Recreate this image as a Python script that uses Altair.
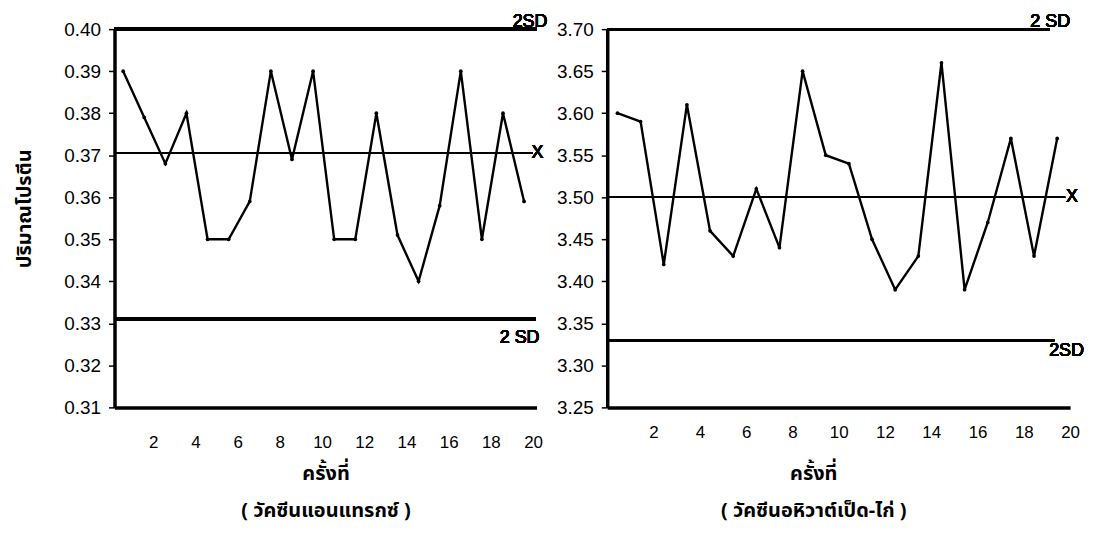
import altair as alt
import pandas as pd

# ---------------- data ----------------
runs = list(range(1, 21))
anthrax = [0.390, 0.379, 0.368, 0.380, 0.350, 0.350, 0.359, 0.390, 0.369, 0.390,
           0.350, 0.350, 0.380, 0.351, 0.340, 0.358, 0.390, 0.350, 0.380, 0.359]
duck_chicken = [3.60, 3.59, 3.42, 3.61, 3.46, 3.43, 3.51, 3.44, 3.65, 3.55,
                3.54, 3.45, 3.39, 3.43, 3.66, 3.39, 3.47, 3.57, 3.43, 3.57]

left_limits = {"upper": 0.400, "mean": 0.3705, "lower": 0.331}
right_limits = {"upper": 3.70, "mean": 3.50, "lower": 3.33}

left_ticks = [0.31, 0.32, 0.33, 0.34, 0.35, 0.36, 0.37, 0.38, 0.39, 0.40]
right_ticks = [3.25, 3.30, 3.35, 3.40, 3.45, 3.50, 3.55, 3.60, 3.65, 3.70]
x_ticks = [2, 4, 6, 8, 10, 12, 14, 16, 18, 20]

y_title = "ปริมาณโปรตีน"
x_title = "ครั้งที่"
left_sub = "( วัคซีนแอนแทรกซ์ )"
right_sub = "( วัคซีนอหิวาต์เป็ด-ไก่ )"
upper_lbl_left, lower_lbl_left = "2SD", "2 SD"
upper_lbl_right, lower_lbl_right = "2 SD", "2SD"
mean_lbl = "X"

FONT = "Liberation Sans, Arial, sans-serif"
THAI = "Noto Sans Thai, Loma, Garuda, Tlwg Typo, Norasi, Noto Sans, sans-serif"


def panel(values, limits, ydom, yticks, xdom, W, H, ytitle, sub, lab_pad,
          lab_off, lab_font, rule_ext, rule_w, ann, title_x):
    df = pd.DataFrame({"n": runs, "v": values})
    xs = alt.Scale(domain=xdom, nice=False, zero=False)
    ys = alt.Scale(domain=ydom, nice=False, zero=False)

    yaxis_kw = dict(values=yticks, format=".2f", labelFont=FONT, labelFontSize=19,
                    labelColor="black", tickSize=6, tickWidth=1.5, tickColor="black",
                    labelPadding=8, domainWidth=3.5, domainColor="black", grid=False)
    if ytitle:
        yaxis = alt.Axis(title=ytitle, titleFont=THAI, titleFontSize=20,
                         titleFontWeight="bold", titleColor="black",
                         titleX=-80, titleY=180, **yaxis_kw)
    else:
        yaxis = alt.Axis(title=None, **yaxis_kw)

    xaxis = alt.Axis(values=x_ticks, title=[x_title, sub], titleFont=THAI,
                     titleFontSize=20, titleFontWeight="bold", titleColor="black",
                     titleLineHeight=38, titleBaseline="top", titleY=56,
                     titleX=title_x,
                     labelFont=lab_font, labelFontSize=17, labelColor="black",
                     labelPadding=lab_pad, labelOffset=lab_off, ticks=False,
                     domainWidth=3.5, domainColor="black", grid=False,
                     labelFlush=False, labelOverlap=False)

    base = alt.Chart(df)
    line = base.mark_line(color="black", strokeWidth=2.4).encode(
        x=alt.X("n:Q", scale=xs, axis=xaxis),
        y=alt.Y("v:Q", scale=ys, axis=yaxis),
    )
    pts = base.mark_point(filled=True, color="black", size=14, opacity=1).encode(
        x=alt.X("n:Q", scale=xs), y=alt.Y("v:Q", scale=ys))

    layers = []
    for key in ["upper", "mean", "lower"]:
        layers.append(
            alt.Chart(df).mark_rule(color="black", strokeWidth=rule_w[key]).encode(
                y=alt.YDatum(limits[key], scale=ys),
                x=alt.value(0), x2=alt.value(rule_ext[key]))
        )
    for key, txt, xpx, align, baseline, dy in ann:
        layers.append(
            alt.Chart(df).mark_text(text=txt, font=FONT, fontSize=18, fontWeight="normal",
                                    color="black", align=align, baseline=baseline,
                                    dy=dy).encode(
                y=alt.YDatum(limits[key], scale=ys), x=alt.value(xpx))
        )
    return alt.layer(*layers, line, pts).properties(width=W, height=H)


left = panel(
    anthrax, left_limits, [0.31, 0.40], left_ticks, [0.59, 20.59], 424, 380,
    y_title, left_sub, 27, 9, "Liberation Sans Narrow, Liberation Sans, Arial",
    {"upper": 424, "mean": 420, "lower": 423},
    {"upper": 3.5, "mean": 1.5, "lower": 3.0},
    [("upper", upper_lbl_left, 435, "right", "alphabetic", -2),
     ("mean", mean_lbl, 425, "center", "middle", 0),
     ("lower", lower_lbl_left, 427, "right", "alphabetic", 24)],
    212,
)
right = panel(
    duck_chicken, right_limits, [3.25, 3.70], right_ticks, [0.557, 20.557], 465, 380,
    None, right_sub, 17, 13, FONT,
    {"upper": 444, "mean": 460, "lower": 449},
    {"upper": 2.5, "mean": 1.5, "lower": 2.5},
    [("upper", upper_lbl_right, 465, "right", "alphabetic", -2),
     ("mean", mean_lbl, 467, "center", "middle", 0),
     ("lower", lower_lbl_right, 444, "left", "alphabetic", 16)],
    207,
)

chart = alt.hconcat(left, right, spacing=71, bounds="flush").properties(
    padding={"left": 6, "top": 3, "right": 0, "bottom": 20}
).configure_view(stroke="transparent")

chart.save("out.html", embed_options={"renderer": "svg", "actions": False})
